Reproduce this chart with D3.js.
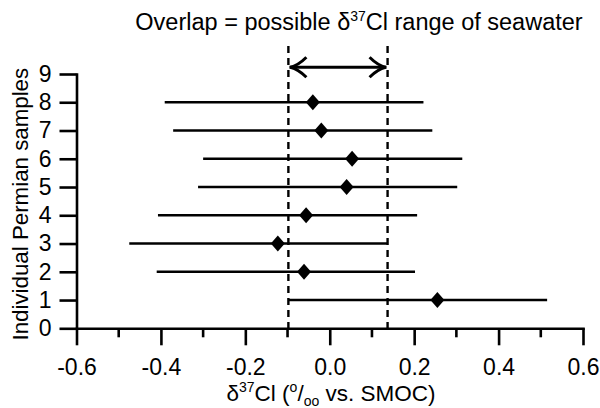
<!DOCTYPE html>
<html>
<head>
<meta charset="utf-8">
<script src="https://cdn.jsdelivr.net/npm/d3@7"></script>
<style>
  body { margin: 0; background: #fff; }
  svg text { font-family: "Liberation Sans", Arial, sans-serif; fill: #000; }
</style>
</head>
<body>
<svg id="chart" width="600" height="408"></svg>
<script>
"use strict";

// sample number, d37Cl value and the low / high end of its range
const samples = [1, 2, 3, 4, 5, 6, 7, 8];
const values  = [0.255, -0.061, -0.123, -0.056, 0.040, 0.053, -0.020, -0.040];
const lows    = [-0.097, -0.410, -0.475, -0.407, -0.312, -0.300, -0.371, -0.391];
const highs   = [0.515, 0.202, 0.137, 0.207, 0.302, 0.314, 0.243, 0.222];

// overlap range of seawater (dashed lines)
const overlap = [-0.098, 0.137];

const xTicks = [-0.6, -0.4, -0.2, 0.0, 0.2, 0.4, 0.6];
const xMinor = [-0.5, -0.3, -0.1, 0.1, 0.3, 0.5];
const yTicks = [0, 1, 2, 3, 4, 5, 6, 7, 8, 9];

const svg = d3.select("#chart");

let x = d3.scaleLinear().domain([-0.6, 0.6]).range([76.5, 583]);
let y = d3.scaleLinear().domain([0, 9]).range([328.3, 74]);

const sw = 2.6;

// x axis, hyphen as minus like the original
let xAxis = d3.axisBottom(x).tickValues(xTicks).tickSize(17).tickPadding(13)
  .tickFormat(d => d.toFixed(1)).tickSizeOuter(0);
let gx = svg.append("g").attr("transform", `translate(0,${y(0)})`).call(xAxis);
gx.selectAll("text").attr("font-size", 23).attr("dy", "0.71em");
gx.append("g").selectAll("line").data(xMinor).join("line")
  .attr("x1", d => x(d)).attr("x2", d => x(d))
  .attr("y1", 0).attr("y2", 9);

// y axis
let yAxis = d3.axisLeft(y).tickValues(yTicks).tickSize(17).tickPadding(8).tickSizeOuter(0);
let gy = svg.append("g").attr("transform", `translate(${x(-0.6)},0)`).call(yAxis);
gy.selectAll("text").attr("font-size", 23);

svg.selectAll(".domain, .tick line, g line")
  .attr("stroke", "#000").attr("stroke-width", sw).attr("stroke-linecap", "square");
svg.selectAll(".tick line, g > g > line").attr("stroke-linecap", "butt");

// dashed overlap lines
svg.append("g").selectAll("line").data(overlap).join("line")
  .attr("x1", d => x(d)).attr("x2", d => x(d))
  .attr("y1", 46).attr("y2", y(0))
  .attr("stroke", "#000").attr("stroke-width", 2.4).attr("stroke-dasharray", "7,5");

// double-headed arrow between the dashed lines
let ay = 67.3;
let arrow = svg.append("g").attr("fill", "none").attr("stroke", "#000")
  .attr("stroke-width", 3).attr("stroke-linejoin", "miter");
arrow.append("line").attr("x1", x(overlap[0]) + 1).attr("x2", x(overlap[1]) - 1)
  .attr("y1", ay).attr("y2", ay);
arrow.append("path")
  .attr("d", `M${x(overlap[0]) + 18},${ay - 10} Q${x(overlap[0]) + 10},${ay - 2} ${x(overlap[0]) + 2},${ay} Q${x(overlap[0]) + 10},${ay + 2} ${x(overlap[0]) + 18},${ay + 10}`);
arrow.append("path")
  .attr("d", `M${x(overlap[1]) - 18},${ay - 10} Q${x(overlap[1]) - 10},${ay - 2} ${x(overlap[1]) - 2},${ay} Q${x(overlap[1]) - 10},${ay + 2} ${x(overlap[1]) - 18},${ay + 10}`);

// range bars
svg.append("g").selectAll("line").data(samples).join("line")
  .attr("x1", (d, i) => x(lows[i])).attr("x2", (d, i) => x(highs[i]))
  .attr("y1", d => y(d)).attr("y2", d => y(d))
  .attr("stroke", "#000").attr("stroke-width", sw);

// diamonds
svg.append("g").selectAll("path").data(samples).join("path")
  .attr("d", "M0,-8 L7,0 L0,8 L-7,0 Z")
  .attr("transform", (d, i) => `translate(${x(values[i])},${y(d)})`)
  .attr("fill", "#000");

// title
let title = svg.append("text").attr("x", 359).attr("y", 30)
  .attr("text-anchor", "middle").attr("font-size", 23.5);
title.append("tspan").text("Overlap = possible \u03B4");
title.append("tspan").attr("font-size", 14).attr("dy", -9).text("37");
title.append("tspan").attr("dy", 9).text("Cl range of seawater");

// x label
let xl = svg.append("text").attr("x", 331).attr("y", 401)
  .attr("text-anchor", "middle").attr("font-size", 22.5);
xl.append("tspan").text("\u03B4");
xl.append("tspan").attr("font-size", 14).attr("dy", -9).text("37");
xl.append("tspan").attr("dy", 9).text("Cl (");
xl.append("tspan").attr("font-size", 14).attr("dy", -9).text("o");
xl.append("tspan").attr("dy", 9).text("/");
xl.append("tspan").attr("font-size", 14).attr("dy", 5).text("oo");
xl.append("tspan").attr("dy", -5).text(" vs. SMOC)");

// y label
svg.append("text")
  .attr("transform", `translate(28,${(y(0) + y(9)) / 2 + 3}) rotate(-90)`)
  .attr("text-anchor", "middle").attr("font-size", 22.3)
  .text("Individual Permian samples");
</script>
</body>
</html>
